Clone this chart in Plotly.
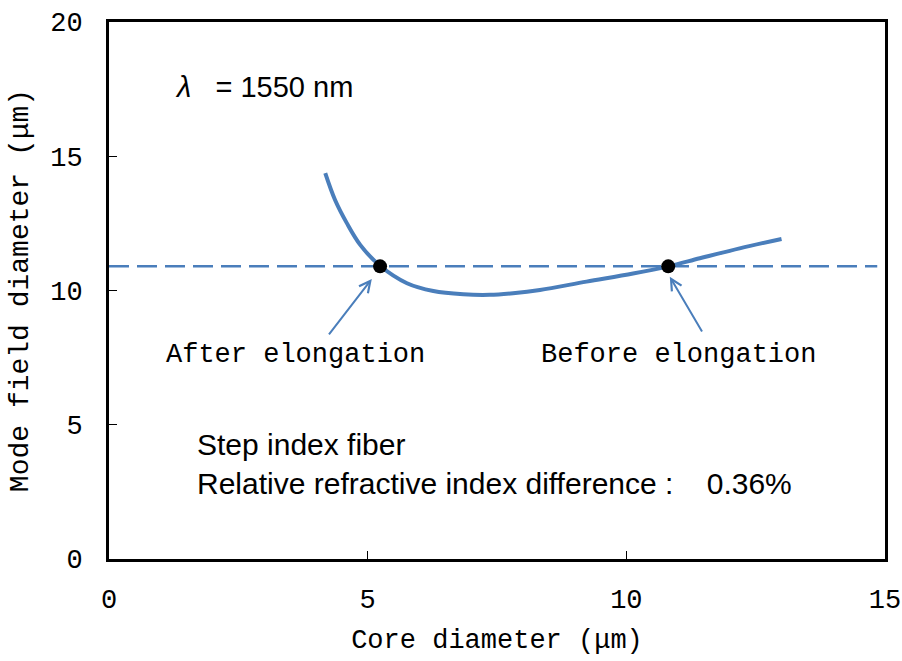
import plotly.graph_objects as go

# Data
curve_x = [4.18, 4.37, 4.60, 4.86, 5.24, 5.76, 6.27, 6.85, 7.36, 7.81, 8.33, 9.23, 10.13, 10.81, 11.42, 12.19, 13.0]
curve_y = [14.37, 13.37, 12.50, 11.69, 10.92, 10.27, 9.98, 9.86, 9.84, 9.90, 10.02, 10.33, 10.63, 10.90, 11.20, 11.57, 11.92]
target_mfd = 10.9
dash_x = [0, 14.85]
point_x = [5.24, 10.81]
point_y = [10.9, 10.9]
point_labels = ["After elongation", "Before elongation"]
label_x = [3.6, 11.0]
label_y = [7.6, 7.6]
arrow_tail_x = [4.23, 11.48]
arrow_tail_y = [8.31, 8.42]
arrow_head_x = [5.08, 10.84]
arrow_head_y = [10.43, 10.51]
x_ticks = [0, 5, 10, 15]
y_ticks = [0, 5, 10, 15, 20]

BLUE = "#4A7EBB"
MONO = "Liberation Mono"
SANS = "Liberation Sans"

fig = go.Figure()
fig.add_trace(go.Scatter(x=dash_x, y=[target_mfd] * len(dash_x), mode="lines",
                         line=dict(color=BLUE, width=2.5, dash="20px,8px"), showlegend=False))
fig.add_trace(go.Scatter(x=curve_x, y=curve_y, mode="lines",
                         line=dict(color=BLUE, width=4, shape="spline", smoothing=1), showlegend=False))
fig.add_trace(go.Scatter(x=point_x, y=point_y, mode="markers",
                         marker=dict(color="black", size=14), showlegend=False))

for i in range(len(point_labels)):
    fig.add_annotation(x=arrow_head_x[i], y=arrow_head_y[i], ax=arrow_tail_x[i], ay=arrow_tail_y[i],
                       xref="x", yref="y", axref="x", ayref="y", text="", showarrow=True,
                       arrowhead=5, arrowsize=1.1, arrowwidth=2, arrowcolor=BLUE)
    fig.add_annotation(x=label_x[i], y=label_y[i], xref="x", yref="y", text=point_labels[i],
                       showarrow=False, font=dict(family=MONO, size=27, color="black"))

fig.add_annotation(x=1.23, y=17.58, xref="x", yref="y", xanchor="left", showarrow=False,
                   text="<i>λ</i>   = 1550 nm", font=dict(family=SANS, size=29, color="black"))
fig.add_annotation(x=1.66, y=4.25, xref="x", yref="y", xanchor="left", showarrow=False,
                   text="Step index fiber", font=dict(family=SANS, size=30, color="black"))
fig.add_annotation(x=1.66, y=2.83, xref="x", yref="y", xanchor="left", showarrow=False,
                   text="Relative refractive index difference&nbsp;:&nbsp;&nbsp;&nbsp;&nbsp;0.36%",
                   font=dict(family=SANS, size=30, color="black"))

fig.update_xaxes(range=[0, 15], tickvals=x_ticks, ticks="inside", ticklen=8, tickwidth=1,
                 tickcolor="black", showline=True, linewidth=3, linecolor="black", mirror=True,
                 showgrid=False, zeroline=False, ticklabelstandoff=14, automargin=False,
                 tickfont=dict(family=MONO, size=27, color="black"),
                 title=dict(text="Core diameter (μm)", font=dict(family=MONO, size=27, color="black"),
                            standoff=14))
fig.update_yaxes(range=[0, 20], tickvals=y_ticks, ticks="inside", ticklen=8, tickwidth=1,
                 tickcolor="black", showline=True, linewidth=3, linecolor="black", mirror=True,
                 showgrid=False, zeroline=False, ticklabelstandoff=18, automargin=False,
                 tickfont=dict(family=MONO, size=27, color="black"),
                 title=dict(text="Mode field diameter (μm)", font=dict(family=MONO, size=28, color="black"),
                            standoff=14))
fig.update_layout(width=902, height=661, margin=dict(l=109, r=17, t=22, b=102),
                  plot_bgcolor="white", paper_bgcolor="white")
fig.write_html("out.html")
